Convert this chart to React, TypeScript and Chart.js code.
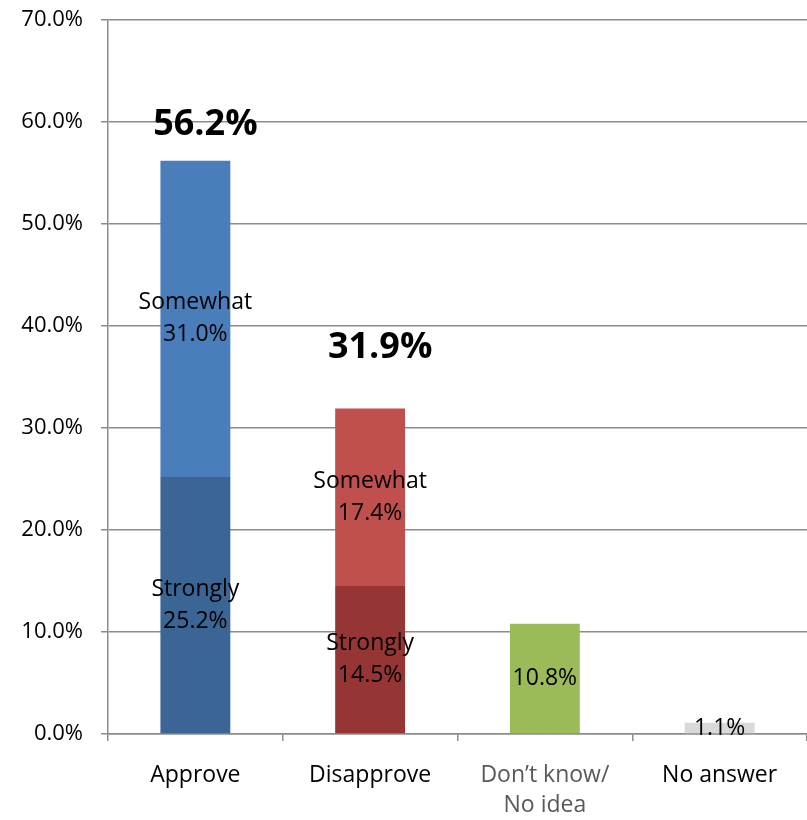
import React, { useEffect, useRef } from "react";
import { Chart, registerables } from "chart.js";

Chart.register(...registerables);

const categories: (string | string[])[] = ["Approve", "Disapprove", ["Don\u2019t know/", "No idea"], "No answer"];
const stronglyValues = [25.2, 14.5, 10.8, 1.1];
const somewhatValues = [31.0, 17.4, null, null];
const totals = [56.2, 31.9, null, null];
const stronglyPrefix = ["Strongly", "Strongly", "", ""];
const somewhatPrefix = ["Somewhat", "Somewhat", "", ""];
const yTicks = [0, 10, 20, 30, 40, 50, 60, 70];

const stronglyColors = ["#3b6595", "#963634", "#9bbb59", "#d9d9d9"];
const somewhatColors = ["#4a7ebb", "#c0504d", "#9bbb59", "#d9d9d9"];

const FONT = "'Open Sans', 'DejaVu Sans', sans-serif";
const GRID = "#8c8c8c";
const totalLift = [36, 61];

const labelPlugin = {
  id: "segLabels",
  afterDatasetsDraw(chart: any) {
    const ctx = chart.ctx;
    ctx.save();
    ctx.textAlign = "center";
    ctx.textBaseline = "middle";
    ctx.fillStyle = "#000";
    ctx.font = `23px ${FONT}`;
    const prefixes = [stronglyPrefix, somewhatPrefix];
    chart.data.datasets.forEach((ds: any, di: number) => {
      const meta = chart.getDatasetMeta(di);
      meta.data.forEach((el: any, i: number) => {
        const v = ds.data[i];
        if (v == null) return;
        const cy = (el.y + el.base) / 2;
        const txt = v.toFixed(1) + "%";
        const pre = prefixes[di][i];
        if (pre) {
          ctx.fillText(pre, el.x, cy - 16);
          ctx.fillText(txt, el.x, cy + 16);
        } else {
          ctx.fillText(txt, el.x, cy);
        }
      });
    });
    ctx.font = `bold 36px ${FONT}`;
    const meta1 = chart.getDatasetMeta(1);
    totals.forEach((t, i) => {
      if (t == null) return;
      const el = meta1.data[i];
      const yTop = chart.scales.y.getPixelForValue(t);
      ctx.fillText(t.toFixed(1) + "%", el.x + 10, yTop - totalLift[i]);
    });
    ctx.restore();
  },
};

export default function App() {
  const ref = useRef<HTMLCanvasElement>(null);
  useEffect(() => {
    document.body.style.margin = "0";
    const chart = new Chart(ref.current!, {
      type: "bar",
      data: {
        labels: categories as any,
        datasets: [
          {
            label: "Strongly",
            data: stronglyValues,
            backgroundColor: stronglyColors,
            borderWidth: 0,
            categoryPercentage: 0.8,
            barPercentage: 0.5,
          },
          {
            label: "Somewhat",
            data: somewhatValues as any,
            backgroundColor: somewhatColors,
            borderWidth: 0,
            categoryPercentage: 0.8,
            barPercentage: 0.5,
          },
        ],
      },
      options: {
        responsive: false,
        animation: false,
        layout: { padding: { top: 20, right: 0, left: 0, bottom: 0 } },
        plugins: { legend: { display: false }, tooltip: { enabled: false } },
        scales: {
          x: {
            stacked: true,
            grid: {
              display: true,
              offset: true,
              drawOnChartArea: false,
              drawTicks: true,
              tickLength: 7,
              color: GRID,
              lineWidth: 1.5,
            },
            border: { display: true, color: GRID, width: 1.5 },
            ticks: {
              font: { family: FONT, size: 23, lineHeight: 1.3 },
              color: (c: any) => (c.index === 2 ? "#595959" : "#000"),
              padding: 20,
              maxRotation: 0,
            },
            afterFit: (s: any) => {
              s.height = 86;
              s.paddingLeft = 0;
              s.paddingRight = 0;
            },
          },
          y: {
            stacked: true,
            min: 0,
            max: 70,
            afterBuildTicks: (s: any) => {
              s.ticks = yTicks.map((v) => ({ value: v }));
            },
            grid: {
              color: GRID,
              lineWidth: 1.5,
              tickLength: 7,
              drawTicks: true,
            },
            border: { display: true, color: GRID, width: 1.5 },
            ticks: {
              font: { family: FONT, size: 22 },
              color: "#000",
              padding: 18,
              callback: (v: any) => Number(v).toFixed(1) + "%",
            },
            afterFit: (s: any) => {
              s.width = 108;
              s.paddingTop = 10;
              s.paddingBottom = 0;
            },
          },
        },
      },
      plugins: [labelPlugin],
    });
    return () => chart.destroy();
  }, []);
  return (
    <div style={{ width: 807, height: 820 }}>
      <canvas ref={ref} width={807} height={820} />
    </div>
  );
}
